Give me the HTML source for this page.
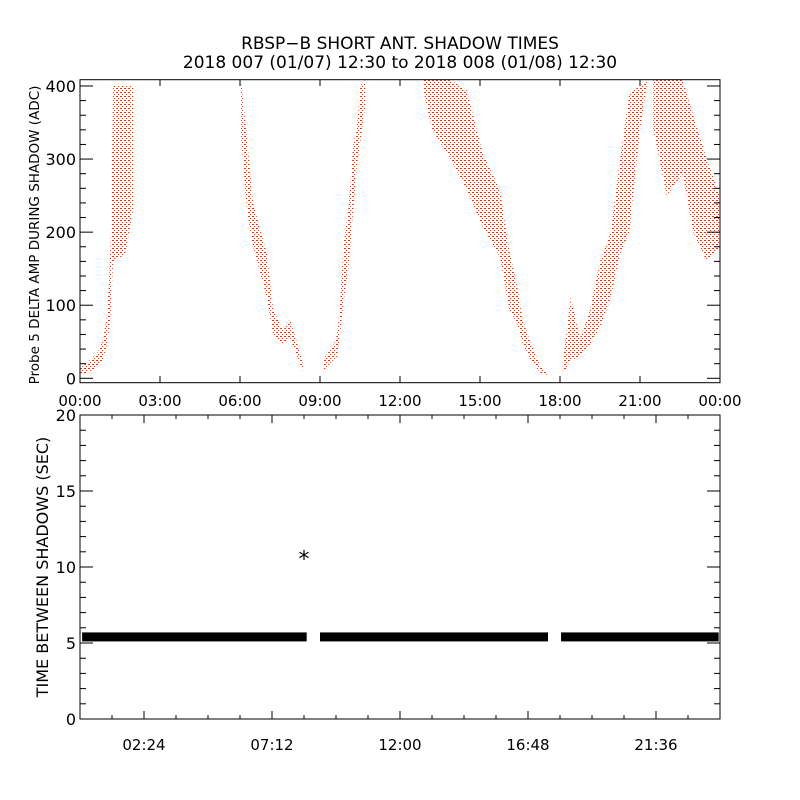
<!DOCTYPE html>
<html><head><meta charset="utf-8"><style>
body{margin:0;background:#fff}
svg{display:block;font-family:"DejaVu Sans","Liberation Sans",sans-serif}
text{fill:#000}
</style></head><body>
<svg id="c" width="800" height="800" viewBox="0 0 800 800">
<defs>
<pattern id="dots" width="4" height="4" patternUnits="userSpaceOnUse">
<rect x="0" y="0" width="2" height="1" fill="#ff2a00"/>
<rect x="2" y="2" width="1" height="1" fill="#ff2a00"/>
</pattern>
</defs>
<text x="400" y="49" font-size="17" text-anchor="middle">RBSP−B SHORT ANT. SHADOW TIMES</text>
<text x="400" y="68" font-size="17" text-anchor="middle">2018 007 (01/07) 12:30 to 2018 008 (01/08) 12:30</text>
<g id="topg"></g>
<g id="botg"></g>
<text transform="translate(39,235) rotate(-90)" font-size="13.5" text-anchor="middle">Probe 5 DELTA AMP DURING SHADOW (ADC)</text>
<text transform="translate(48,567) rotate(-90)" font-size="16" text-anchor="middle">TIME BETWEEN SHADOWS (SEC)</text>
</svg>
<script>
// ---- top panel data: bands of shadow amplitude (hours, low ADC, high ADC)
const bandATimes=[0,0.375,0.675,0.86,1.01,1.09,1.16,1.24,1.69,1.99];
const bandALow=[5,9,17,25,45,66,93,160,170,230];
const bandAHigh=[14,25,36,52,86,134,200,400,400,400];
const bandBTimes=[6.04,6.26,6.49,7.01,7.24,7.61,7.88,8.25,8.4];
const bandBLow=[330,230,180,110,60,45,55,20,6];
const bandBHigh=[408,330,240,170,95,65,80,35,12];
const bandCTimes=[9.11,9.5,9.64,9.75,9.87,10.06,10.25,10.38,10.5,10.69];
const bandCLow=[10,25,30,60,100,150,230,290,320,370];
const bandCHigh=[25,45,60,100,180,230,320,340,400,408];
const bandDTimes=[12.87,13.2,13.9,14.5,15.1,15.75,16.1,16.4,16.6,16.9,17.25,17.5];
const bandDLow=[395,340,300,258,207,166,94,75,48,25,8,4];
const bandDHigh=[408,408,408,394,308,257,175,125,80,48,18,8];
const bandETimes=[18.1,18.4,18.75,19.1,19.5,19.9,20.25,20.6,21.0,21.25];
const bandELow=[5,25,30,45,70,110,170,200,340,400];
const bandEHigh=[20,111,55,90,160,200,300,390,400,408];
const bandFTimes=[21.5,22,22.6,23,23.5,24];
const bandFLow=[340,250,280,200,160,180];
const bandFHigh=[408,408,408,360,300,250];
// ---- bottom panel data
const gapSegStart=[0.08,9.0,18.04];
const gapSegEnd=[8.5,17.55,23.95];
const gapSegValue=[5.4,5.4,5.4];
const outlierTimes=[8.4];
const outlierValues=[10.7];
const topYTicks=[0,100,200,300,400];
const topXLabels=["00:00","03:00","06:00","09:00","12:00","15:00","18:00","21:00","00:00"];
const botYTicks=[0,5,10,15,20];
const botXLabels=["02:24","07:12","12:00","16:48","21:36"];

const NS="http://www.w3.org/2000/svg";
function mk(p,t,a){const e=document.createElementNS(NS,t);for(const k in a)e.setAttribute(k,a[k]);p.appendChild(e);return e;}
const L=80,R=720;
const tx=h=>L+h/24*(R-L);
const ty=v=>378.3-v*0.7308;
const by=v=>719-v*15.2;
const topG=document.getElementById('topg'),botG=document.getElementById('botg');

const bands=[[bandATimes,bandALow,bandAHigh,'band-early'],[bandBTimes,bandBLow,bandBHigh,'band-morning'],[bandCTimes,bandCLow,bandCHigh,'band-midmorning'],[bandDTimes,bandDLow,bandDHigh,'band-afternoon'],[bandETimes,bandELow,bandEHigh,'band-evening'],[bandFTimes,bandFLow,bandFHigh,'band-night']];
bands.forEach(b=>{
  const [t,lo,hi,name]=b;let d='';
  t.forEach((h,i)=>{d+=(i?'L':'M')+tx(h).toFixed(1)+','+ty(Math.min(hi[i],408)).toFixed(1);});
  for(let i=t.length-1;i>=0;i--)d+='L'+tx(t[i]).toFixed(1)+','+ty(lo[i]).toFixed(1);
  const p=mk(topG,'path',{d:d+'Z',fill:'url(#dots)'});
  
  
});

const f1=mk(topG,'rect',{x:L,y:79.7,width:R-L,height:303,fill:'none',stroke:'#000','stroke-width':1});


for(let v=0;v<=400;v+=20){
  const major=v%100===0,len=major?13:6,y=ty(v);
  mk(topG,'line',{x1:L,x2:L+len,y1:y,y2:y,stroke:'#000'});
  mk(topG,'line',{x1:R,x2:R-len,y1:y,y2:y,stroke:'#000'});
}
topYTicks.forEach(v=>{
  const t=mk(topG,'text',{x:76,y:ty(v)+6,'font-size':16,'text-anchor':'end'});t.textContent=v;
  
  
});
topXLabels.forEach((s,i)=>{
  const x=tx(i*3);
  mk(topG,'line',{x1:x,x2:x,y1:79.7,y2:86,stroke:'#000'});
  mk(topG,'line',{x1:x,x2:x,y1:382.7,y2:376,stroke:'#000'});
  const t=mk(topG,'text',{x:x,y:406,'font-size':15,'text-anchor':'middle'});t.textContent=s;
  
  
});

gapSegStart.forEach((s,i)=>{
  const x1=tx(s),x2=tx(gapSegEnd[i]),y=by(gapSegValue[i]);
  const r=mk(botG,'rect',{x:x1,y:y-4.5,width:x2-x1,height:9,fill:'#000'});
  
  
});
outlierTimes.forEach((h,i)=>{
  const x=tx(h),y=by(outlierValues[i]);
  const t=mk(botG,'text',{x:x,y:y+10,'font-size':22,'text-anchor':'middle'});t.textContent='*';
  
  
});
const f2=mk(botG,'rect',{x:L,y:415,width:R-L,height:304,fill:'none',stroke:'#000','stroke-width':1});


for(let v=0;v<=20;v++){
  const major=v%5===0,len=major?13:6,y=by(v);
  mk(botG,'line',{x1:L,x2:L+len,y1:y,y2:y,stroke:'#000'});
  mk(botG,'line',{x1:R,x2:R-len,y1:y,y2:y,stroke:'#000'});
}
botYTicks.forEach(v=>{
  const t=mk(botG,'text',{x:76,y:by(v)+6,'font-size':16,'text-anchor':'end'});t.textContent=v;
  
  
});
for(let k=1;k<20;k++){
  const x=tx(k*1.2),major=k%4===2,len=major?8:4;
  mk(botG,'line',{x1:x,x2:x,y1:415,y2:415+len,stroke:'#000'});
  mk(botG,'line',{x1:x,x2:x,y1:719,y2:719-len,stroke:'#000'});
}
botXLabels.forEach((s,i)=>{
  const t=mk(botG,'text',{x:tx(2.4+i*4.8),y:750,'font-size':15,'text-anchor':'middle'});t.textContent=s;
  
  
});
</script>
</body></html>
